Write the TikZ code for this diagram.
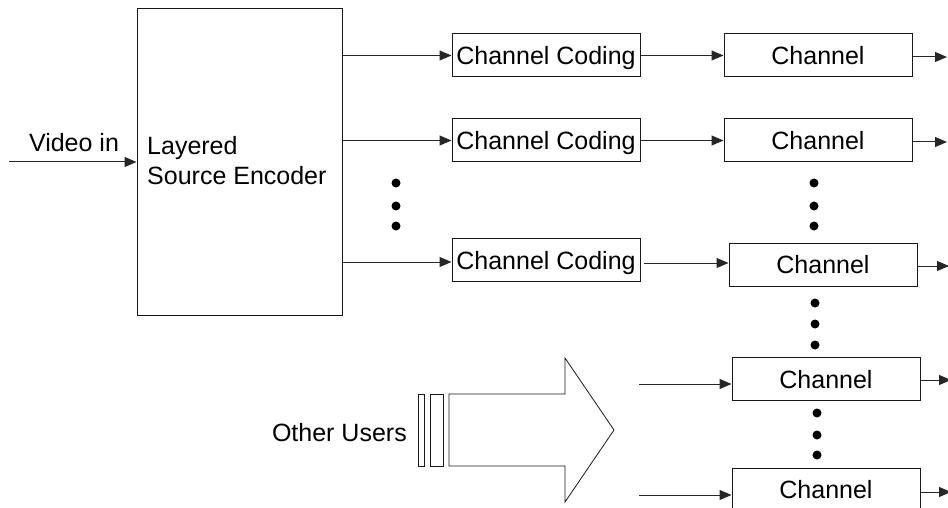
\documentclass[tikz,border=0pt]{standalone}
\usepackage{fontspec}
\setmainfont{Liberation Sans}
\usetikzlibrary{arrows.meta}
\begin{document}
\begin{tikzpicture}[x=1pt,y=-1pt,
  lbl/.style={font=\fontsize{25}{30}\selectfont, inner sep=0pt},
  blk/.style={draw=black!90, line width=1pt, inner sep=0pt, text height=18pt, text depth=0pt,
     font=\fontsize{25}{30}\selectfont, minimum height=43pt, minimum width=188pt},
  conn/.style={draw=black!85, line width=1pt, -{Triangle[length=12pt,width=10pt]}},
  dot/.style={fill=black, circle, inner sep=0pt, minimum size=9pt}]
\clip (0,0) rectangle (948,508);
\fill[white] (0,0) rectangle (948,508);
% encoder
\node[draw=black!90, line width=1pt, minimum width=205pt, minimum height=306pt, inner sep=0pt] (enc) at (239.5,162) {};
\node[lbl, anchor=base west] (encl1) at (147,155) {Layered};
\node[lbl, anchor=base west] (encl2) at (147,185) {Source Encoder};
% video in
\coordinate (vin) at (9,162);
\node[lbl, anchor=base] (vlbl) at (74,152) {Video in};
\draw[conn] (vin) -- (enc.west |- vin);
% channel coding
\node[blk] (cc1) at (546,55.5) {Channel Coding};
\node[blk] (cc2) at (546,140.5) {Channel Coding};
\node[blk] (cc3) at (546,260) {Channel Coding};
% channels
\node[blk] (ch1) at (818,55.5) {Channel};
\node[blk] (ch2) at (818,140.5) {Channel};
\node[blk] (ch3) at (823,264.5) {Channel};
\node[blk] (ch4) at (826,379) {Channel};
\node[blk] (ch5) at (826,489.5) {Channel};
% encoder -> cc
\draw[conn] (enc.east |- cc1.west) -- (cc1.west);
\draw[conn] (enc.east |- cc2.west) -- (cc2.west);
\draw[conn] (enc.east |- 0,262) -- (cc3.west |- 0,262);
% cc -> channel
\draw[conn] (cc1.east) -- (ch1.west);
\draw[conn] (cc2.east) -- (ch2.west);
\coordinate (c3s) at (644,263);
\draw[conn] (c3s) -- (ch3.west |- c3s);
% outputs
\coordinate (o1) at (947,57);
\coordinate (o2) at (947,142);
\coordinate (o3) at (949,266);
\coordinate (o4) at (951,380);
\coordinate (o5) at (951,492);
\draw[conn] (ch1.east |- o1) -- (o1);
\draw[conn] (ch2.east |- o2) -- (o2);
\draw[conn] (ch3.east |- o3) -- (o3);
\draw[conn] (ch4.east |- o4) -- (o4);
\draw[conn] (ch5.east |- o5) -- (o5);
% inputs of other users' channels
\coordinate (i4) at (639,384);
\coordinate (i5) at (639,495);
\draw[conn] (i4) -- (ch4.west |- i4);
\draw[conn] (i5) -- (ch5.west |- i5);
% dots
\foreach \y [count=\i] in {183,206,226}{
  \node[dot] (da\i) at (396,\y) {};
  \node[dot] (db\i) at (814,\y) {};
}
\foreach \y [count=\i] in {303,324,345}{
  \node[dot] (dc\i) at (815,\y) {};
}
\foreach \y [count=\i] in {413,435,455}{
  \node[dot] (dd\i) at (817,\y) {};
}
% other users
\node[lbl, anchor=base east] (ou) at (407,441) {Other Users};
\draw[black!90, line width=0.8pt] (418,394) rectangle (424,466);
\draw[black!90, line width=0.8pt] (430,394) rectangle (443,466);
\draw[black!90, line width=0.8pt] (449,394) -- (565,394) -- (565,358) -- (614,430) -- (565,502) -- (565,466) -- (449,466) -- cycle;
\end{tikzpicture}
\end{document}
